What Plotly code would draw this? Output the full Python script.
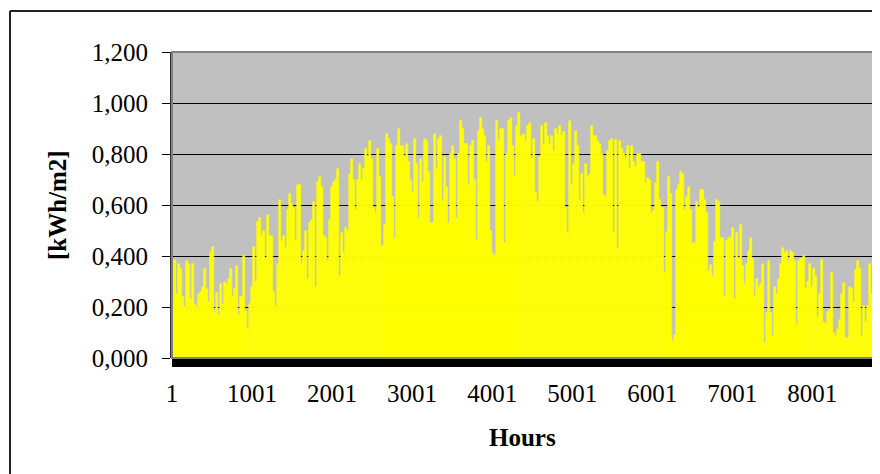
import numpy as np
import plotly.graph_objects as go

# Peak irradiance, in kWh/m2, split into six stretches of the year
jan_feb = [0.21, 0.385, 0.25, 0.37, 0.35, 0.24, 0.20, 0.38, 0.37, 0.23, 0.37, 0.21, 0.20, 0.25,
           0.26, 0.28, 0.35, 0.27, 0.22, 0.417, 0.435, 0.18, 0.255, 0.17, 0.29, 0.21, 0.30, 0.29,
           0.31, 0.35, 0.24, 0.27, 0.36, 0.17, 0.24, 0.40, 0.185, 0.115, 0.21, 0.28, 0.435, 0.30,
           0.535, 0.55, 0.48, 0.50, 0.39, 0.56, 0.48, 0.48, 0.26, 0.20, 0.37, 0.62, 0.46, 0.48, 0.43]
mar_apr = [0.58, 0.645, 0.605, 0.59, 0.46, 0.68, 0.68, 0.37, 0.42, 0.50,
           0.31, 0.53, 0.54, 0.61, 0.28, 0.69, 0.71, 0.67, 0.48, 0.47,
           0.38, 0.54, 0.67, 0.69, 0.70, 0.74, 0.32, 0.49, 0.41, 0.51,
           0.50, 0.72, 0.78, 0.70, 0.58, 0.70, 0.76, 0.70, 0.74, 0.82,
           0.79, 0.85, 0.78, 0.59, 0.57, 0.82, 0.71, 0.44, 0.52, 0.88,
           0.86, 0.84, 0.63, 0.47, 0.83, 0.90, 0.83, 0.83]
may_jun = [0.79, 0.84, 0.77, 0.70, 0.65, 0.86, 0.76, 0.55, 0.78, 0.69,
           0.86, 0.85, 0.73, 0.53, 0.53, 0.88, 0.74, 0.86, 0.87, 0.62,
           0.79, 0.67, 0.53, 0.80, 0.83, 0.78, 0.55, 0.80, 0.93, 0.90,
           0.84, 0.84, 0.68, 0.83, 0.85, 0.70, 0.46, 0.89, 0.94, 0.90,
           0.87, 0.77, 0.83, 0.50, 0.41, 0.40, 0.93, 0.85, 0.90, 0.90,
           0.45, 0.80, 0.93, 0.94, 0.83, 0.71, 0.91, 0.96]
jul_aug = [0.87, 0.88, 0.85, 0.91, 0.92, 0.78, 0.86, 0.65, 0.61, 0.79,
           0.91, 0.835, 0.92, 0.87, 0.835, 0.87, 0.81, 0.90, 0.88, 0.91,
           0.87, 0.885, 0.59, 0.49, 0.93, 0.68, 0.76, 0.89, 0.83, 0.62,
           0.72, 0.57, 0.76, 0.71, 0.72, 0.91, 0.87, 0.87, 0.85, 0.84,
           0.80, 0.64, 0.63, 0.81, 0.85, 0.86, 0.49, 0.855, 0.43, 0.85,
           0.82, 0.80, 0.78, 0.83, 0.74, 0.83, 0.77, 0.75, 0.80]
sep_oct = [0.80, 0.77, 0.77, 0.685, 0.705, 0.70, 0.57, 0.58, 0.685, 0.77,
           0.62, 0.59, 0.335, 0.495, 0.71, 0.645, 0.065, 0.09, 0.66, 0.68,
           0.73, 0.72, 0.58, 0.63, 0.67, 0.58, 0.45, 0.45, 0.61, 0.59,
           0.66, 0.66, 0.62, 0.57, 0.34, 0.365, 0.32, 0.455, 0.62, 0.61,
           0.47, 0.47, 0.24, 0.46, 0.47, 0.475, 0.51, 0.23, 0.49, 0.39,
           0.52, 0.36, 0.29, 0.37, 0.42, 0.47, 0.39, 0.24]
nov_dec = [0.31, 0.28, 0.29, 0.37, 0.06, 0.175, 0.38, 0.175, 0.085, 0.28,
           0.25, 0.31, 0.37, 0.43, 0.41, 0.42, 0.38, 0.42, 0.41, 0.38,
           0.135, 0.38, 0.39, 0.40, 0.27, 0.30, 0.37, 0.28, 0.35, 0.32,
           0.16, 0.25, 0.385, 0.14, 0.135, 0.18, 0.19, 0.335, 0.10, 0.085,
           0.115, 0.15, 0.25, 0.295, 0.077, 0.077, 0.28, 0.27, 0.22, 0.345,
           0.38, 0.35, 0.085, 0.205, 0.14, 0.205, 0.37, 0.25]

x_ticks = [1, 1001, 2001, 3001, 4001, 5001, 6001, 7001, 8001]
y_ticks = [0, 0.2, 0.4, 0.6, 0.8, 1.0, 1.2]
y_labels = ["0,000", "0,200", "0,400", "0,600", "0,800", "1,000", "1,200"]
n_hours = 8760

values = jan_feb + mar_apr + may_jun + jul_aug + sep_oct + nov_dec
step = n_hours / len(values)
hours = 0.5 + step * (np.arange(len(values)) + 0.5)

font = "Liberation Serif"

fig = go.Figure()
fig.add_trace(go.Bar(x=hours, y=values, width=step,
                     marker=dict(color="#FFFF00", line=dict(color="#FFFF00", width=0.6))))

# page body adds 8px, so plot area lands at 172..873 x 52..358 on screen
fig.update_layout(
    width=880, height=474,
    margin=dict(l=164, r=15, t=44, b=124),
    paper_bgcolor="white",
    plot_bgcolor="#C0C0C0",
    bargap=0,
    showlegend=False,
    font=dict(family=font, size=25, color="black"),
)

fig.update_xaxes(
    range=[0.5, n_hours + 0.5],
    tickmode="array", tickvals=x_ticks, ticktext=[str(t) for t in x_ticks],
    ticks="outside", ticklen=8, tickcolor="black", tickwidth=1,
    minor=dict(ticks="outside", ticklen=8, dtick=8, tick0=1, tickcolor="black", tickwidth=1),
    showgrid=False, showline=False, zeroline=False,
    ticklabelstandoff=5,
    tickfont=dict(family=font, size=25),
)
fig.update_yaxes(
    range=[0, 1.2],
    tickmode="array", tickvals=y_ticks, ticktext=y_labels,
    ticks="outside", ticklen=8, tickcolor="black", tickwidth=1,
    showgrid=True, gridcolor="black", gridwidth=1,
    showline=True, linecolor="#333333", linewidth=2,
    zeroline=False,
    ticklabelstandoff=9,
    tickfont=dict(family=font, size=25),
)

# grey frame of the plot area
fig.add_shape(type="rect", xref="paper", yref="paper", x0=0, y0=0, x1=1, y1=1,
              line=dict(color="#808080", width=2))
# outer chart border (left and top)
fig.add_shape(type="line", xref="paper", yref="paper", x0=-0.2311, y0=1.134, x1=1.05, y1=1.134,
              line=dict(color="#222222", width=2))
fig.add_shape(type="line", xref="paper", yref="paper", x0=-0.2311, y0=1.134, x1=-0.2311, y1=-0.45,
              line=dict(color="#222222", width=2))

fig.add_annotation(text="<b>[kWh/m2]</b>", xref="paper", yref="paper", x=-0.164, y=0.5,
                   xanchor="center", yanchor="middle",
                   textangle=-90, showarrow=False, font=dict(family=font, size=25))
fig.add_annotation(text="<b>Hours</b>", xref="paper", yref="paper", x=0.5007, y=-0.261,
                   xanchor="center", yanchor="middle",
                   showarrow=False, font=dict(family=font, size=25))

fig.write_html("out.html")
